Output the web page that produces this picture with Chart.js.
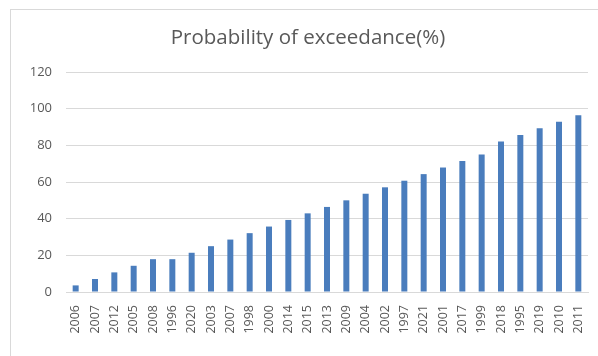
<!DOCTYPE html>
<html>
<head>
<meta charset="utf-8">
<script src="https://cdn.jsdelivr.net/npm/chart.js@4/dist/chart.umd.min.js"></script>
<style>
  html, body { margin: 0; padding: 0; background: #ffffff; }
  #wrap { position: relative; width: 598px; height: 356px; }
</style>
</head>
<body>
<div id="wrap"><canvas id="chart" width="598" height="356"></canvas></div>
<script>
// Ranked years and their probability of exceedance (%)
const years = ['2006','2007','2012','2005','2008','1996','2020','2003','2007','1998','2000','2014','2015','2013','2009','2004','2002','1997','2021','2001','2017','1999','2018','1995','2019','2010','2011'];
const exceedance = [3.6, 7.1, 10.7, 14.3, 17.9, 17.9, 21.4, 25.0, 28.6, 32.1, 35.7, 39.3, 42.9, 46.4, 50.0, 53.6, 57.1, 60.7, 64.3, 67.9, 71.4, 75.0, 82.1, 85.7, 89.3, 92.9, 96.4];
const yTicks = [0, 20, 40, 60, 80, 100, 120];

const textColor = '#595959';
const lineColor = '#d9d9d9';

// Thin frame around the chart
const framePlugin = {
  id: 'frame',
  beforeDraw(chart) {
    const ctx = chart.ctx;
    ctx.save();
    ctx.fillStyle = '#ffffff';
    ctx.fillRect(0, 0, chart.width, chart.height);
    ctx.strokeStyle = lineColor;
    ctx.lineWidth = 1;
    ctx.strokeRect(10.5, 9.5, 700, 700);
    ctx.restore();
  }
};

new Chart(document.getElementById('chart'), {
  type: 'bar',
  data: {
    labels: years,
    datasets: [{
      label: 'Probability of exceedance(%)',
      data: exceedance,
      backgroundColor: '#4a7dbd',
      borderWidth: 0,
      barPercentage: 0.31,
      categoryPercentage: 1.0
    }]
  },
  options: {
    responsive: false,
    animation: false,
    layout: { padding: { left: 28, right: 10, top: 0, bottom: 0 } },
    plugins: {
      legend: { display: false },
      tooltip: { enabled: false },
      title: {
        display: true,
        text: 'Probability of exceedance(%)',
        color: textColor,
        font: { family: 'Open Sans', size: 20.5, weight: 'normal', lineHeight: 1.2 },
        padding: { top: 26, bottom: 21.4 }
      }
    },
    scales: {
      x: {
        grid: { display: false, drawTicks: false },
        border: { display: true, color: lineColor, width: 1 },
        ticks: {
          color: textColor,
          font: { family: 'Open Sans', size: 12.5 },
          autoSkip: false,
          minRotation: 90,
          maxRotation: 90,
          padding: 13
        },
        afterFit(scale) {
          scale.height = 64;
          scale.paddingLeft = 0;
          scale.paddingRight = 0;
        }
      },
      y: {
        min: 0,
        max: 120,
        afterBuildTicks(scale) { scale.ticks = yTicks.map(v => ({ value: v })); },
        grid: { color: lineColor, lineWidth: 1, drawTicks: false },
        border: { display: false },
        ticks: {
          color: textColor,
          font: { family: 'Open Sans', size: 13 },
          padding: 14
        },
        afterFit(scale) {
          scale.width = 38;
          scale.paddingTop = 0;
          scale.paddingBottom = 0;
        }
      }
    }
  },
  plugins: [framePlugin]
});
</script>
</body>
</html>
